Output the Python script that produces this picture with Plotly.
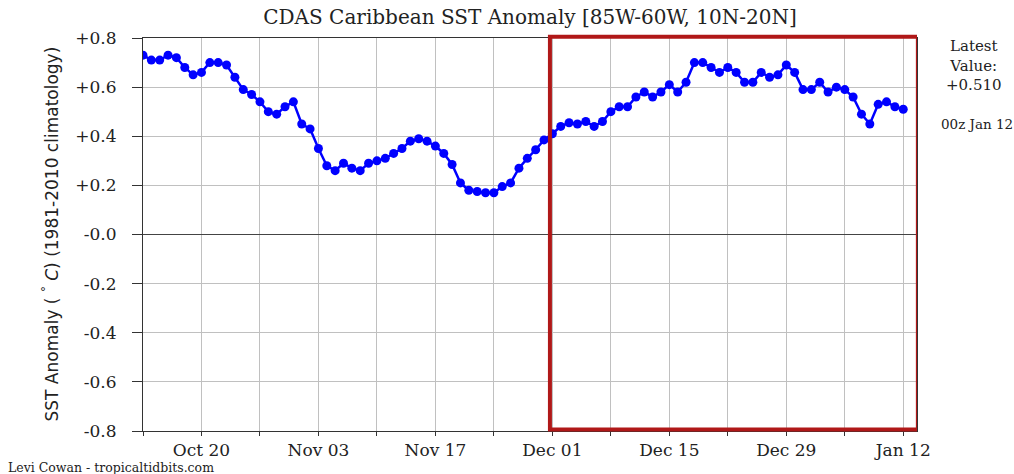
import pandas as pd
import plotly.graph_objects as go

# ---- data ----
dates = pd.date_range("2019-10-13", "2020-01-12", freq="D")
sst_anomaly = [
    0.73, 0.71, 0.71, 0.73, 0.72, 0.68, 0.65, 0.66, 0.70, 0.70,   # Oct 13-22
    0.69, 0.64, 0.59, 0.57, 0.54, 0.50, 0.49, 0.52, 0.54,         # Oct 23-31
    0.45, 0.43, 0.35, 0.28, 0.26, 0.29, 0.27, 0.26, 0.29, 0.30,   # Nov 1-10
    0.31, 0.33, 0.35, 0.38, 0.39, 0.38, 0.36, 0.33, 0.285, 0.21,  # Nov 11-20
    0.18, 0.175, 0.17, 0.17, 0.195, 0.21, 0.27, 0.31, 0.345, 0.385,  # Nov 21-30
    0.41, 0.44, 0.455, 0.45, 0.46, 0.44, 0.46, 0.50, 0.52, 0.52,  # Dec 1-10
    0.56, 0.58, 0.56, 0.58, 0.61, 0.58, 0.62, 0.70, 0.70, 0.68,   # Dec 11-20
    0.66, 0.68, 0.66, 0.62, 0.62, 0.66, 0.64, 0.65, 0.69, 0.66,   # Dec 21-30
    0.59,                                                         # Dec 31
    0.59, 0.62, 0.58, 0.60, 0.59, 0.56, 0.49, 0.45, 0.53, 0.54,   # Jan 1-10
    0.52, 0.51,                                                   # Jan 11-12
]
x_tick_dates = pd.date_range("2019-10-13", "2020-01-12", freq="7D")
x_tick_labels = ["" if i % 2 == 0 else d.strftime("%b %d") for i, d in enumerate(x_tick_dates)]
y_tick_vals = [0.8, 0.6, 0.4, 0.2, 0.0, -0.2, -0.4, -0.6, -0.8]
y_tick_labels = ["+0.8", "+0.6", "+0.4", "+0.2", "-0.0", "-0.2", "-0.4", "-0.6", "-0.8"]
latest_value = "+0.510"
latest_time = "00z Jan 12"

SERIF = "DejaVu Serif"
SANS = "DejaVu Sans"

fig = go.Figure()
fig.add_trace(go.Scatter(
    x=dates, y=sst_anomaly, mode="lines+markers",
    line=dict(color="#0000ff", width=2.5),
    marker=dict(color="#0000ff", size=9),
    showlegend=False, hoverinfo="x+y",
))

fig.update_layout(
    width=1014, height=474,
    margin=dict(l=143, r=97, t=38, b=43),
    paper_bgcolor="white", plot_bgcolor="white",
    title=dict(text="CDAS Caribbean SST Anomaly [85W-60W, 10N-20N]",
               x=(143 + 917) / 2 / 1014, xanchor="center", y=1 - 17 / 474, yanchor="middle",
               font=dict(family=SERIF, size=20, color="#222")),
    xaxis=dict(
        range=["2019-10-13 00:00", "2020-01-13 15:30"],
        tickmode="array", tickvals=x_tick_dates, ticktext=x_tick_labels,
        showgrid=True, gridcolor="#c0c0c0", gridwidth=1,
        ticks="outside", ticklen=4, tickcolor="#333", tickwidth=1,
        showline=True, linecolor="#333", linewidth=1, mirror=True,
        tickfont=dict(family=SERIF, size=17, color="#222"),
        zeroline=False,
    ),
    yaxis=dict(
        range=[-0.8, 0.8],
        tickmode="array", tickvals=y_tick_vals, ticktext=y_tick_labels,
        showgrid=True, gridcolor="#c0c0c0", gridwidth=1,
        ticks="outside", ticklen=10, tickcolor="#333", tickwidth=1,
        ticklabelstandoff=12,
        showline=True, linecolor="#333", linewidth=1, mirror=True,
        tickfont=dict(family=SERIF, size=17, color="#222"),
        zeroline=True, zerolinecolor="#444", zerolinewidth=1,
    ),
    font=dict(family=SERIF),
)

# y-axis title
fig.add_annotation(
    text="SST Anomaly ( <sup>°</sup> <i>C</i>) (1981-2010 climatology)",
    xref="paper", yref="paper", x=-93 / 774, y=0.5, xanchor="center", yanchor="middle",
    textangle=-90, showarrow=False, font=dict(family=SANS, size=17, color="#222"),
)
# latest value box
fig.add_annotation(
    text="Latest<br>Value:<br>" + latest_value,
    xref="paper", yref="paper", x=(974 - 143) / 774, y=(431 - 65) / 393,
    xanchor="center", yanchor="middle", showarrow=False,
    font=dict(family=SERIF, size=15, color="#222"),
)
fig.add_annotation(
    text=latest_time,
    xref="paper", yref="paper", x=(977 - 143) / 774, y=(431 - 124) / 393,
    xanchor="center", yanchor="middle", showarrow=False,
    font=dict(family=SERIF, size=13.5, color="#222"),
)
# credit
fig.add_annotation(
    text="Levi Cowan - tropicaltidbits.com",
    xref="paper", yref="paper", x=-137 / 774, y=-36.5 / 393,
    xanchor="left", yanchor="middle", showarrow=False,
    font=dict(family=SERIF, size=12.5, color="#222"),
)

# red highlight rectangle
fig.add_shape(
    type="rect", xref="x", yref="paper",
    x0="2019-11-30 17:00", x1="2020-01-13 18:00", y0=0.004, y1=1.003,
    line=dict(color="#b01818", width=4), fillcolor="rgba(0,0,0,0)", layer="above",
)

fig.write_html("out.html", post_script="document.body.style.margin='0';",
               config={"displayModeBar": False})
